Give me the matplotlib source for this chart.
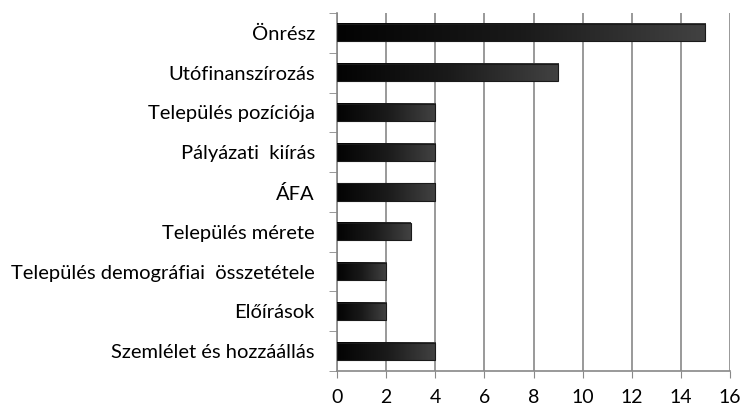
import numpy as np
import matplotlib
matplotlib.use("Agg")
import matplotlib.pyplot as plt
from matplotlib.colors import LinearSegmentedColormap

# --- Data (top to bottom as shown) ---
categories = [
    "Önrész",
    "Utófinanszírozás",
    "Település pozíciója",
    "Pályázati  kiírás",
    "ÁFA",
    "Település mérete",
    "Település demográfiai  összetétele",
    "Előírások",
    "Szemlélet és hozzáállás",
]
values = [15, 9, 4, 4, 4, 3, 2, 2, 4]
x_ticks = [0, 2, 4, 6, 8, 10, 12, 14, 16]

plt.rcParams["font.family"] = ["Lato", "DejaVu Sans"]

fig = plt.figure(figsize=(7.43, 4.13), dpi=100)
ax = fig.add_axes([0.4536, 0.1017, 0.5289, 0.8668])

n = len(categories)
ypos = np.arange(n)[::-1]
bar_h = 0.43

# bar gradient: black on the left to dark grey on the right
cmap = LinearSegmentedColormap.from_list("bar", ["#030303", "#1a1a1a", "#424242"])
grad = np.linspace(0, 1, 256).reshape(1, -1)

for y, v in zip(ypos, values):
    ax.imshow(grad, cmap=cmap, aspect="auto", interpolation="bilinear",
              extent=(0, v, y - bar_h / 2, y + bar_h / 2), zorder=3)
    ax.barh(y, v, height=bar_h, facecolor="none", edgecolor="#1a1a1a",
            linewidth=0.8, zorder=4)

ax.set_xlim(0, 16)
ax.set_ylim(-0.5, n - 0.5)
ax.set_xticks(x_ticks)
ax.set_xticklabels([str(t) for t in x_ticks], fontsize=14)
ax.set_yticks(ypos)
ax.set_yticklabels(categories, fontsize=14.5)
ax.tick_params(axis="y", length=0, pad=16)
ax.tick_params(axis="x", length=5, color="#888888", pad=8, direction="out")

# minor ticks between categories on the y axis
ax.set_yticks(np.arange(-0.5, n, 1.0), minor=True)
ax.tick_params(axis="y", which="minor", length=6, color="#888888")

ax.grid(axis="x", color="#888888", linewidth=1.2, zorder=0)
ax.set_axisbelow(True)
for side in ["top", "right"]:
    ax.spines[side].set_visible(False)
ax.spines["left"].set_color("#888888")
ax.spines["bottom"].set_color("#888888")
ax.spines["left"].set_linewidth(1.2)
ax.spines["bottom"].set_linewidth(1.2)

fig.savefig("out.png", dpi=100)
